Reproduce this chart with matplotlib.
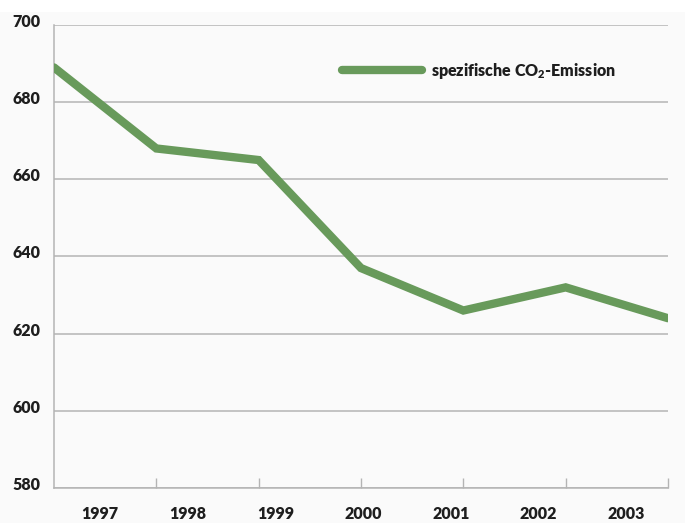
import matplotlib
matplotlib.use("Agg")
import matplotlib.pyplot as plt
from matplotlib.transforms import ScaledTranslation
from matplotlib.patches import Rectangle

years = ["1997", "1998", "1999", "2000", "2001", "2002", "2003"]
emission = [689, 668, 665, 637, 626, 632, 624]
y_ticks = [580, 600, 620, 640, 660, 680, 700]

plt.rcParams["font.family"] = ["Lato", "DejaVu Sans"]
plt.rcParams["font.weight"] = "heavy"
plt.rcParams["mathtext.fontset"] = "custom"
plt.rcParams["mathtext.rm"] = "Lato:heavy"
plt.rcParams["mathtext.bf"] = "Lato:heavy"

W, H = 685, 523
fig = plt.figure(figsize=(W / 100, H / 100), dpi=100, facecolor="#fafafa")
fig.patches.append(Rectangle((0, 1 - 12 / H), 1, 12 / H, transform=fig.transFigure,
                             facecolor="white", edgecolor="none", zorder=0))

left, right, top, bottom = 54, 668, 25, 488
ax = fig.add_axes([left / W, 1 - bottom / H, (right - left) / W, (bottom - top) / H])
ax.set_facecolor("#fafafa")

green = "#689a5b"
grid = "#b4b4b4"
text_col = "#1e1e1e"
fs = 11.5

x = list(range(len(years)))
ax.plot(x, emission, color=green, lw=6, solid_capstyle="round", solid_joinstyle="miter",
        label="spezifische CO$_2$-Emission", zorder=3)

ax.set_xlim(0, len(years) - 1)
ax.set_ylim(y_ticks[0], y_ticks[-1])

# horizontal grid
ax.set_yticks(y_ticks)
ax.yaxis.grid(True, color=grid, lw=1.1)
ax.set_axisbelow(True)
ax.tick_params(axis="y", length=0, pad=10, labelsize=fs, labelcolor=text_col)
for lbl in ax.get_yticklabels():
    lbl.set_transform(lbl.get_transform() + ScaledTranslation(0, 0.045, fig.dpi_scale_trans))

# category boundary marks on the x axis
ax.set_xticks(x[1:])
ax.tick_params(axis="x", which="major", direction="in", length=7.5, width=1.0,
               color=grid, labelbottom=False)
# year labels
label_pos = [0.45 + i * 0.857 for i in range(len(years))]
ax.set_xticks(label_pos, minor=True, labels=years)
ax.tick_params(axis="x", which="minor", length=0, pad=13, labelsize=fs, labelcolor=text_col)

for s in ["top", "right"]:
    ax.spines[s].set_visible(False)
for s in ["left", "bottom"]:
    ax.spines[s].set_color(grid)
    ax.spines[s].set_linewidth(1.1)

leg = ax.legend(loc="center left", bbox_to_anchor=(0.469, 0.901), frameon=False,
                borderpad=0, borderaxespad=0, handlelength=5.0, handletextpad=0.55,
                prop={"size": fs, "weight": "heavy"})
for t in leg.get_texts():
    t.set_color(text_col)

fig.savefig("out.png", dpi=100, facecolor=fig.get_facecolor())
